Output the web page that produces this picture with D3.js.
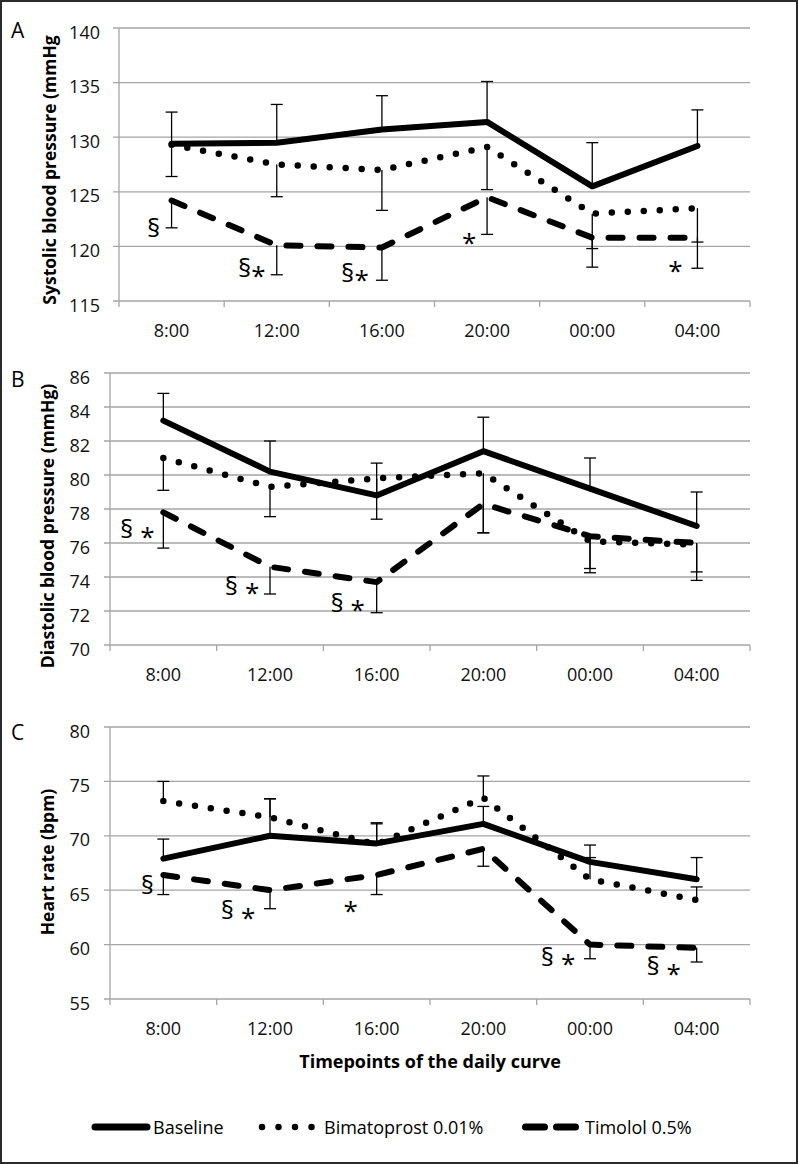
<!DOCTYPE html>
<html>
<head>
<meta charset="utf-8">
<script src="https://cdn.jsdelivr.net/npm/d3@7"></script>
<style>
  body { margin: 0; background: #fff; }
  svg { display: block; font-family: "Open Sans", sans-serif; }
</style>
</head>
<body>
<div id="chart"></div>
<script>
// timepoints of the daily curve
var times = ["8:00", "12:00", "16:00", "20:00", "00:00", "04:00"];

// A - systolic blood pressure (mmHg)
var sysBaseline = [129.4, 129.5, 130.7, 131.4, 125.5, 129.2];
var sysBaselineUp = [2.9, 3.5, 3.1, 3.7, 4.0, 3.3];
var sysBimato = [129.3, 127.5, 127.0, 129.1, 123.0, 123.5];
var sysBimatoDown = [2.9, 2.95, 3.7, 3.9, 3.2, 3.1];
var sysTimolol = [124.2, 120.1, 119.9, 124.5, 120.8, 120.8];
var sysTimololDown = [2.5, 2.7, 3.0, 3.4, 2.7, 2.8];
var sysTicks = [115, 120, 125, 130, 135, 140];

// B - diastolic blood pressure (mmHg)
var diaBaseline = [83.2, 80.2, 78.8, 81.4, 79.2, 77.0];
var diaBaselineUp = [1.6, 1.8, 1.9, 2.0, 1.8, 2.0];
var diaBimato = [81.0, 79.3, 79.8, 80.1, 76.1, 75.9];
var diaBimatoDown = [1.9, 1.75, 2.4, 3.5, 1.6, 1.6];
var diaTimolol = [77.8, 74.6, 73.7, 78.3, 76.4, 76.0];
var diaTimololDown = [2.1, 1.6, 1.8, 1.7, 2.15, 2.2];
var diaTicks = [70, 72, 74, 76, 78, 80, 82, 84, 86];

// C - heart rate (bpm)
var hrBaseline = [67.9, 70.0, 69.3, 71.1, 67.6, 66.0];
var hrBaselineUp = [1.8, 3.4, 1.9, 1.6, 1.55, 2.0];
var hrBimato = [73.2, 71.7, 69.2, 73.5, 66.0, 64.1];
var hrBimatoUp = [1.8, 1.7, 1.9, 2.0, 2.0, 1.2];
var hrTimolol = [66.4, 65.0, 66.4, 68.8, 60.0, 59.7];
var hrTimololDown = [1.8, 1.7, 1.8, 1.6, 1.3, 1.3];
var hrTicks = [55, 60, 65, 70, 75, 80];

// significance marks: [category index, text, value at mark centre, x shift]
var sysMarks = [[0, "§", 121.7, -18], [1, "§*", 118.0, -25], [2, "§*", 117.6, -27], [3, "*", 121.0, -18], [5, "*", 118.5, -22]];
var diaMarks = [[0, "§ *", 76.8, -26], [1, "§ *", 73.5, -28], [2, "§ *", 72.5, -29]];
var hrMarks = [[0, "§", 65.5, -16], [1, "§ *", 63.2, -32], [2, "*", 63.8, -26], [4, "§ *", 58.9, -32], [5, "§ *", 58.0, -33]];

var legendNames = ["Baseline", "Bimatoprost 0.01%", "Timolol 0.5%"];

var width = 799, height = 1164;

var svg = d3.select("#chart").append("svg")
    .attr("width", width)
    .attr("height", height);

svg.append("rect")
    .attr("x", 1).attr("y", 1)
    .attr("width", width - 3).attr("height", height - 2)
    .attr("fill", "#fff")
    .attr("stroke", "#2b2b2b")
    .attr("stroke-width", 2);

var styles = {
    baseline: { width: 6, dash: null },
    bimato: { width: 6.5, dash: "0 16" },
    timolol: { width: 6, dash: "14 17" }
};

var panels = [
    { letter: "A", letterY: 38, x0: 119, x1: 750, top: 28, bottom: 301, domain: [115, 140], ticks: sysTicks,
      title: "Systolic blood pressure (mmHg", titleX: 50, titleY: 170,
      series: [
          { key: "baseline", values: sysBaseline, err: sysBaselineUp, dir: 1 },
          { key: "bimato", values: sysBimato, err: sysBimatoDown, dir: -1 },
          { key: "timolol", values: sysTimolol, err: sysTimololDown, dir: -1 }
      ], marks: sysMarks },
    { letter: "B", letterY: 387, x0: 110, x1: 750, top: 373, bottom: 645, domain: [70, 86], ticks: diaTicks,
      title: "Diastolic blood pressure (mmHg)", titleX: 48, titleY: 526,
      series: [
          { key: "baseline", values: diaBaseline, err: diaBaselineUp, dir: 1 },
          { key: "bimato", values: diaBimato, err: diaBimatoDown, dir: -1 },
          { key: "timolol", values: diaTimolol, err: diaTimololDown, dir: -1 }
      ], marks: diaMarks },
    { letter: "C", letterY: 740, x0: 110, x1: 750, top: 727, bottom: 999, domain: [55, 80], ticks: hrTicks,
      title: "Heart rate (bpm)", titleX: 48, titleY: 862,
      series: [
          { key: "baseline", values: hrBaseline, err: hrBaselineUp, dir: 1 },
          { key: "bimato", values: hrBimato, err: hrBimatoUp, dir: 1 },
          { key: "timolol", values: hrTimolol, err: hrTimololDown, dir: -1 }
      ], marks: hrMarks }
];

var gridColor = "#a5a5a5";

panels.forEach(function(p) {
    var x = d3.scaleBand().domain(times).range([p.x0, p.x1]).paddingInner(0).paddingOuter(0);
    var y = d3.scaleLinear().domain(p.domain).range([p.bottom, p.top]);
    var cx = function(i) { return x(times[i]) + x.bandwidth() / 2; };

    var g = svg.append("g");

    // gridlines
    g.selectAll("line.grid")
        .data(p.ticks)
        .enter().append("line")
        .attr("x1", p.x0 - 6).attr("x2", p.x1)
        .attr("y1", function(d) { return y(d); })
        .attr("y2", function(d) { return y(d); })
        .attr("stroke", gridColor).attr("stroke-width", 1.3);

    // y axis line
    g.append("line")
        .attr("x1", p.x0).attr("x2", p.x0)
        .attr("y1", p.top).attr("y2", p.bottom)
        .attr("stroke", gridColor).attr("stroke-width", 1.3);

    // x tick marks at category boundaries
    g.selectAll("line.xt")
        .data(times.map(function(t) { return x(t); }).concat([p.x1]))
        .enter().append("line")
        .attr("x1", function(d) { return d; }).attr("x2", function(d) { return d; })
        .attr("y1", p.bottom).attr("y2", p.bottom + 6)
        .attr("stroke", gridColor).attr("stroke-width", 1.3);

    // y labels
    var yAxis = g.append("g")
        .attr("transform", "translate(" + p.x0 + ",0)")
        .call(d3.axisLeft(y).tickValues(p.ticks).tickSize(0).tickPadding(p.x0 - 100 + (p.letter == "A" ? 0 : 10)));
    yAxis.select(".domain").remove();
    yAxis.selectAll("text")
        .attr("dy", "0.56em")
        .style("font-family", "Open Sans")
        .style("font-size", "18px")
        .attr("fill", "#111");

    // x labels
    var xAxis = g.append("g")
        .attr("transform", "translate(0," + p.bottom + ")")
        .call(d3.axisBottom(x).tickSize(0).tickPadding(23));
    xAxis.select(".domain").remove();
    xAxis.selectAll("text")
        .attr("dy", "0.71em")
        .style("font-family", "Open Sans")
        .style("font-size", "18px")
        .attr("fill", "#111");

    // titles
    g.append("text")
        .attr("transform", "translate(" + p.titleX + "," + p.titleY + ") rotate(-90)")
        .attr("text-anchor", "middle")
        .attr("dy", "0.35em")
        .style("font-size", "17.5px")
        .style("font-weight", "bold")
        .text(p.title);

    g.append("text")
        .attr("x", 11).attr("y", p.letterY)
        .style("font-size", "21px")
        .text(p.letter);

    // error bars
    p.series.forEach(function(s) {
        var eb = g.append("g").attr("stroke", "#000").attr("stroke-width", 1.3);
        s.values.forEach(function(v, i) {
            var end = v + s.dir * s.err[i];
            eb.append("line")
                .attr("x1", cx(i)).attr("x2", cx(i))
                .attr("y1", y(v)).attr("y2", y(end));
            eb.append("line")
                .attr("x1", cx(i) - 6).attr("x2", cx(i) + 6)
                .attr("y1", y(end)).attr("y2", y(end));
        });
    });

    // series lines
    var line = d3.line()
        .x(function(d, i) { return cx(i); })
        .y(function(d) { return y(d); });

    p.series.forEach(function(s) {
        var st = styles[s.key];
        g.append("path")
            .datum(s.values)
            .attr("d", line)
            .attr("fill", "none")
            .attr("stroke", "#000")
            .attr("stroke-width", st.width)
            .attr("stroke-linecap", "round")
            .attr("stroke-linejoin", "round")
            .attr("stroke-dasharray", st.dash);
    });

    // significance marks
    p.marks.forEach(function(m) {
        var t = g.append("text")
            .attr("x", cx(m[0]) + m[3])
            .attr("y", y(m[2]) + 9)
            .attr("text-anchor", "middle")
            .style("font-size", "26px");
        m[1].split("").forEach(function(ch) {
            var ts = t.append("tspan").text(ch);
            if (ch == "*") ts.attr("dy", "0.3em");
        });
    });
});

// x axis title
svg.append("text")
    .attr("x", 430).attr("y", 1068)
    .attr("text-anchor", "middle")
    .style("font-size", "18px")
    .style("font-weight", "bold")
    .text("Timepoints of the daily curve");

// legend
var legendY = 1127;
var legend = svg.append("g");
var legendLines = [[92, 150], [262, 312], [525.5, 575.5]];
var legendDash = [null, "0 16.5", "19 12"];
var legendText = [153, 324, 585];

legendNames.forEach(function(name, i) {
    legend.append("line")
        .attr("x1", legendLines[i][0] + (i == 0 ? 3 : 0)).attr("x2", legendLines[i][1] - (i == 0 ? 3 : 0))
        .attr("y1", legendY).attr("y2", legendY)
        .attr("stroke", "#000")
        .attr("stroke-width", i == 1 ? 6.5 : 7)
        .attr("stroke-linecap", "round")
        .attr("stroke-dasharray", legendDash[i]);
    legend.append("text")
        .attr("x", legendText[i]).attr("y", legendY + 6.5)
        .style("font-size", "18px")
        .text(name);
});
</script>
</body>
</html>
